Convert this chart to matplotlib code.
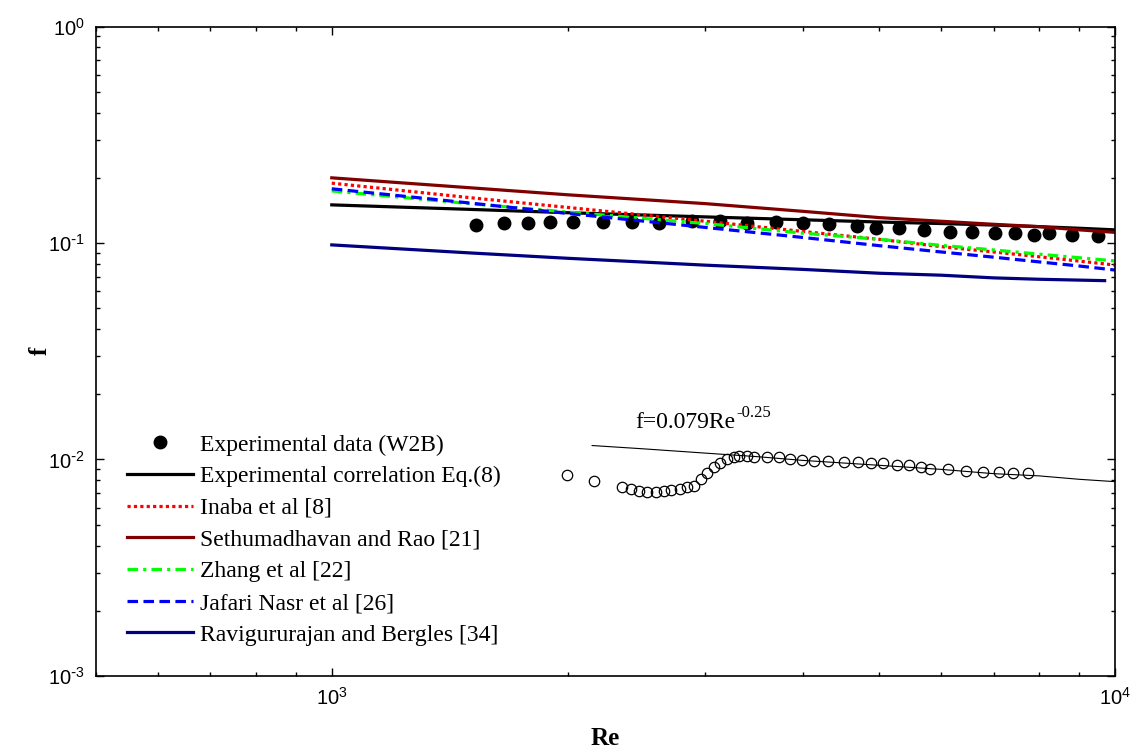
import matplotlib
matplotlib.use("Agg")
import matplotlib.pyplot as plt
from matplotlib.ticker import LogLocator, NullFormatter, FuncFormatter
from matplotlib.transforms import offset_copy
import numpy as np

plt.rcParams["font.family"] = ["Liberation Sans", "DejaVu Sans"]
plt.rcParams["mathtext.default"] = "regular"
plt.rcParams["axes.unicode_minus"] = False

SERIF = ["Liberation Serif", "DejaVu Serif"]

# ---------- данные ----------
# экспериментальные точки (W2B)
re_exp = [1530, 1660, 1780, 1900, 2030, 2220, 2420, 2620, 2880, 3130, 3390, 3690, 4000,
          4320, 4690, 4960, 5300, 5710, 6160, 6570, 7030, 7460, 7880, 8240, 8810, 9510]
f_exp = [0.121, 0.124, 0.124, 0.125, 0.125, 0.125, 0.125, 0.124, 0.126, 0.126, 0.124, 0.125, 0.124,
         0.122, 0.120, 0.117, 0.117, 0.115, 0.113, 0.113, 0.111, 0.111, 0.109, 0.111, 0.109, 0.108]

# корреляции
re_corr = [1000, 1500, 2000, 3000, 4000, 5000, 6000, 7000, 8000, 9000, 10000]
f_eq8 = [0.150, 0.143, 0.138, 0.132, 0.128, 0.125, 0.123, 0.121, 0.119, 0.117, 0.115]
f_inaba = [0.189, 0.162, 0.146, 0.126, 0.113, 0.104, 0.0962, 0.0909, 0.0864, 0.0825, 0.0791]
f_sethu = [0.200, 0.180, 0.167, 0.152, 0.140, 0.131, 0.126, 0.122, 0.119, 0.115, 0.112]
f_zhang = [0.174, 0.152, 0.139, 0.123, 0.111, 0.104, 0.0975, 0.0929, 0.0888, 0.0855, 0.0826]
f_jafari = [0.178, 0.153, 0.137, 0.118, 0.106, 0.0972, 0.0909, 0.0860, 0.0818, 0.0783, 0.0750]

re_ravi = [1000, 1500, 2000, 3000, 4000, 5000, 6000, 7000, 8000, 9700]
f_ravi = [0.098, 0.090, 0.085, 0.079, 0.0755, 0.0725, 0.071, 0.069, 0.068, 0.067]

# вода, гладкая труба
re_water = [1994, 2160, 2344, 2407, 2466, 2527, 2597, 2653, 2712, 2781, 2842, 2904, 2962,
            3015, 3074, 3135, 3197, 3259, 3307, 3389, 3463, 3594, 3719, 3850, 3985, 4123,
            4305, 4512, 4700, 4885, 5060, 5272, 5461, 5657, 5808, 6124, 6457, 6787, 7112,
            7413, 7745]
f_water = [0.00848, 0.00798, 0.00744, 0.00729, 0.00715, 0.00710, 0.00710, 0.00715, 0.00723,
           0.00731, 0.00744, 0.00754, 0.00810, 0.00869, 0.00920, 0.00960, 0.01002, 0.01024,
           0.01038, 0.01038, 0.01030, 0.01030, 0.01024, 0.01002, 0.00995, 0.00987, 0.00984,
           0.00974, 0.00974, 0.00963, 0.00963, 0.00943, 0.00943, 0.00923, 0.00904, 0.00904,
           0.00885, 0.00876, 0.00876, 0.00866, 0.00866]

# Блазиус
re_blasius = [2150, 2500, 3000, 3500, 4000, 5000, 6000, 7000, 8000, 9000, 10000]
f_blasius = [0.0116, 0.0112, 0.0107, 0.0103, 0.0099, 0.0094, 0.0090, 0.0086, 0.0084, 0.0081, 0.0079]


def pow10_label(v, pos):
    # подписи вида 10^n с обычным дефисом в показателе
    e = int(round(np.log10(v)))
    if e < 0:
        return r"$\mathdefault{10^{\text{-}%d}}$" % (-e)
    return r"$\mathdefault{10^{%d}}$" % e


# ---------- график ----------
fig = plt.figure(figsize=(11.36, 7.51), dpi=100)
ax = fig.add_axes([0.0845, 0.0999, 0.897, 0.8648])

lw = 2.3
ax.plot(re_exp, f_exp, "o", color="black", ms=9, label="Experimental data (W2B)")
ax.plot(re_corr, f_eq8, "-", color="black", lw=lw, label="Experimental correlation Eq.(8)")
ax.plot(re_corr, f_inaba, color="#ff0000", lw=lw, ls=(0, (1, 1)), label="Inaba et al [8]")
ax.plot(re_corr, f_sethu, "-", color="#800000", lw=lw, label="Sethumadhavan and Rao [21]")
ax.plot(re_corr, f_zhang, color="#00ff00", lw=lw, ls=(0, (3.3, 1.6, 1, 1.6)), label="Zhang et al [22]")
ax.plot(re_corr, f_jafari, color="#0000ff", lw=lw, ls=(0, (3.3, 1.7)), label="Jafari Nasr et al [26]")
ax.plot(re_ravi, f_ravi, "-", color="#000080", lw=lw, label="Ravigururajan and Bergles [34]")

ax.plot(re_blasius, f_blasius, "-", color="black", lw=0.8)
ax.plot(re_water, f_water, "o", mfc="none", mec="black", mew=0.9, ms=7.5)

ax.set_xscale("log")
ax.set_yscale("log")
ax.set_xlim(500, 1e4)
ax.set_ylim(1e-3, 1)

ax.xaxis.set_major_locator(LogLocator(base=10, numticks=10))
ax.xaxis.set_minor_locator(LogLocator(base=10, subs=range(2, 10), numticks=20))
ax.xaxis.set_minor_formatter(NullFormatter())
ax.yaxis.set_minor_locator(LogLocator(base=10, subs=range(2, 10), numticks=20))
ax.yaxis.set_minor_formatter(NullFormatter())
ax.xaxis.set_major_formatter(FuncFormatter(pow10_label))
ax.yaxis.set_major_formatter(FuncFormatter(pow10_label))
ax.tick_params(which="both", direction="in", top=True, right=True, labelsize=14.5, width=1)
ax.tick_params(which="major", length=6, pad=8)
ax.tick_params(which="minor", length=3)
for s in ax.spines.values():
    s.set_linewidth(1.2)

ax.set_xlabel("Re", family=SERIF, fontweight="bold", fontsize=18, labelpad=13)
ax.set_ylabel("f", family=SERIF, fontweight="bold", fontsize=18, labelpad=-3)

ax.legend(loc="upper left", bbox_to_anchor=(0.021, 0.387), frameon=False,
          prop={"family": SERIF, "size": 17}, handlelength=2.8, handletextpad=0.3,
          labelspacing=0.43, borderaxespad=0)

# подпись к формуле Блазиуса: основной текст + показатель степени
t = ax.text(2443, 0.01398, "f=0.079Re", family=SERIF, fontsize=17,
            va="baseline", ha="left")
fig.canvas.draw()
bb = t.get_window_extent()
x_end, _ = ax.transData.inverted().transform((bb.x1, bb.y0))
ax.text(x_end, 0.01398, "-0.25", family=SERIF, fontsize=12, va="baseline", ha="left",
        transform=offset_copy(ax.transData, fig=fig, x=0.5, y=8, units="points"))

fig.savefig("out.png", dpi=100)
